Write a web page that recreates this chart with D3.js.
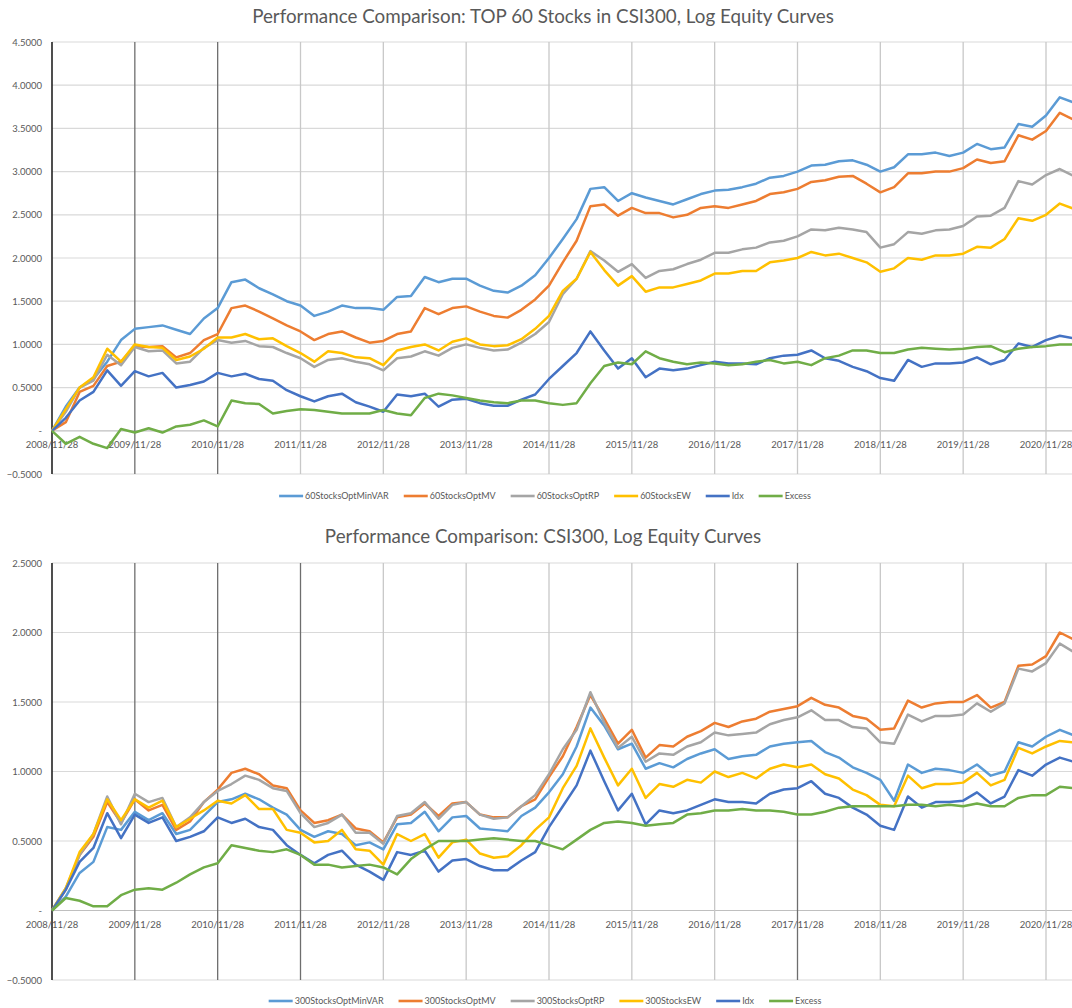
<!DOCTYPE html>
<html>
<head>
<meta charset="utf-8">
<script src="https://cdn.jsdelivr.net/npm/d3@7"></script>
<style>
  body { margin: 0; background: #fff; overflow: hidden; }
  svg { display: block; font-family: Lato, "Open Sans", sans-serif; }
</style>
</head>
<body>
<svg id="chart" width="1072" height="1008"></svg>
<script>
/* month offsets from 2008/11/28, the curves are read every 2 months */
const MONTHS = d3.range(0, 149, 2);

const TICK_LABELS = ["2008/11/28", "2009/11/28", "2010/11/28", "2011/11/28", "2012/11/28",
  "2013/11/28", "2014/11/28", "2015/11/28", "2016/11/28", "2017/11/28", "2018/11/28",
  "2019/11/28", "2020/11/28"];

const COLORS = ["#5B9BD5", "#ED7D31", "#A5A5A5", "#FFC000", "#4472C4", "#70AD47"];

/* CSI300 index, same curve in both charts */
const IDX = [
  0, 0.15, 0.35, 0.45, 0.7, 0.52, 0.69, 0.63, 0.67, 0.5, 0.53, 0.57,
  0.67, 0.63, 0.66, 0.6, 0.58, 0.47, 0.4, 0.34, 0.4, 0.43, 0.33, 0.28,
  0.22, 0.42, 0.4, 0.43, 0.28, 0.36, 0.37, 0.32, 0.29, 0.29, 0.36, 0.42,
  0.6, 0.75, 0.9, 1.15, 0.93, 0.72, 0.84, 0.62, 0.72, 0.7, 0.72, 0.76,
  0.8, 0.78, 0.78, 0.77, 0.84, 0.87, 0.88, 0.93, 0.84, 0.81, 0.74, 0.69,
  0.61, 0.58, 0.82, 0.74, 0.78, 0.78, 0.79, 0.85, 0.77, 0.82, 1.01, 0.97,
  1.05, 1.1, 1.07
];

/* top chart: 60 stocks */
const TOP60_NAMES = ["60StocksOptMinVAR", "60StocksOptMV", "60StocksOptRP", "60StocksEW", "Idx", "Excess"];

const TOP60_MINVAR = [
  0, 0.28, 0.5, 0.6, 0.8, 1.05, 1.18, 1.2, 1.22, 1.17, 1.12, 1.3,
  1.42, 1.72, 1.75, 1.65, 1.58, 1.5, 1.45, 1.33, 1.38, 1.45, 1.42, 1.42,
  1.4, 1.55, 1.56, 1.78, 1.72, 1.76, 1.76, 1.68, 1.62, 1.6, 1.68, 1.8,
  2.0, 2.22, 2.45, 2.8, 2.82, 2.66, 2.75, 2.7, 2.66, 2.62, 2.68, 2.74,
  2.78, 2.79, 2.82, 2.86, 2.93, 2.95, 3.0, 3.07, 3.08, 3.12, 3.13, 3.08,
  3.0, 3.05, 3.2, 3.2, 3.22, 3.18, 3.22, 3.32, 3.26, 3.28, 3.55, 3.52,
  3.65, 3.86, 3.8
];
const TOP60_MV = [
  0, 0.1, 0.45, 0.52, 0.75, 0.8, 0.98, 0.97, 0.98, 0.85, 0.9, 1.05,
  1.12, 1.42, 1.45, 1.38, 1.3, 1.22, 1.15, 1.05, 1.12, 1.15, 1.08, 1.02,
  1.04, 1.12, 1.15, 1.42, 1.35, 1.42, 1.44, 1.38, 1.33, 1.31, 1.4, 1.52,
  1.68, 1.95, 2.2, 2.6, 2.62, 2.49, 2.58, 2.52, 2.52, 2.47, 2.5, 2.58,
  2.6, 2.58, 2.62, 2.66, 2.74, 2.76, 2.8, 2.88, 2.9, 2.94, 2.95, 2.86,
  2.76, 2.82, 2.98, 2.98, 3.0, 3.0, 3.04, 3.14, 3.1, 3.12, 3.42, 3.37,
  3.47, 3.68, 3.6
];
const TOP60_RP = [
  0, 0.22, 0.5, 0.58, 0.88, 0.76, 0.97, 0.92, 0.93, 0.78, 0.8, 0.96,
  1.05, 1.02, 1.04, 0.98, 0.97, 0.9, 0.84, 0.74, 0.82, 0.84, 0.8, 0.77,
  0.7, 0.84, 0.86, 0.92, 0.87, 0.96, 1.0, 0.96, 0.93, 0.94, 1.02, 1.12,
  1.26, 1.58, 1.76, 2.08, 1.97, 1.84, 1.93, 1.77, 1.85, 1.87, 1.93, 1.98,
  2.06, 2.06, 2.1, 2.12, 2.18, 2.2, 2.25, 2.33, 2.32, 2.35, 2.33, 2.3,
  2.12, 2.16, 2.3, 2.28, 2.32, 2.33, 2.37, 2.48, 2.49, 2.58, 2.89, 2.85,
  2.96, 3.03, 2.95
];
const TOP60_EW = [
  0, 0.25, 0.5, 0.62, 0.95, 0.8, 1.0, 0.97, 0.96, 0.82, 0.86, 0.95,
  1.08, 1.08, 1.12, 1.06, 1.07, 0.98, 0.9, 0.8, 0.92, 0.9, 0.85, 0.84,
  0.76, 0.93, 0.97, 1.0, 0.93, 1.03, 1.07, 1.0, 0.98, 0.99, 1.06, 1.18,
  1.33, 1.62, 1.76, 2.07, 1.86, 1.68, 1.79, 1.61, 1.66, 1.66, 1.7, 1.74,
  1.82, 1.82, 1.85, 1.85, 1.95, 1.97, 2.0, 2.07, 2.03, 2.05, 2.0, 1.95,
  1.84, 1.88, 2.0, 1.98, 2.03, 2.03, 2.05, 2.13, 2.12, 2.22, 2.46, 2.43,
  2.5, 2.63, 2.57
];
const TOP60_EXCESS = [
  0, -0.15, -0.07, -0.15, -0.2, 0.02, -0.02, 0.03, -0.02, 0.05, 0.07, 0.12,
  0.05, 0.35, 0.32, 0.31, 0.2, 0.23, 0.25, 0.24, 0.22, 0.2, 0.2, 0.2,
  0.24, 0.2, 0.18, 0.38, 0.43, 0.41, 0.38, 0.35, 0.33, 0.32, 0.35, 0.35,
  0.32, 0.3, 0.32, 0.55, 0.75, 0.79, 0.77, 0.92, 0.84, 0.8, 0.77, 0.79,
  0.78, 0.76, 0.77, 0.8, 0.82, 0.78, 0.8, 0.76, 0.84, 0.87, 0.93, 0.93,
  0.9, 0.9, 0.94, 0.96, 0.95, 0.94, 0.95, 0.97, 0.98, 0.91, 0.95, 0.97,
  0.98, 1.0, 1.0
];

/* bottom chart: all 300 stocks */
const ALL300_NAMES = ["300StocksOptMinVAR", "300StocksOptMV", "300StocksOptRP", "300StocksEW", "Idx", "Excess"];

const ALL300_MINVAR = [
  0, 0.1, 0.27, 0.35, 0.6, 0.58, 0.71, 0.65, 0.7, 0.55, 0.58, 0.68,
  0.78, 0.8, 0.84, 0.8, 0.74, 0.69, 0.58, 0.53, 0.57, 0.55, 0.47, 0.49,
  0.44, 0.62, 0.63, 0.71, 0.57, 0.67, 0.68, 0.59, 0.58, 0.57, 0.68, 0.74,
  0.85, 0.98, 1.18, 1.46, 1.33, 1.16, 1.2, 1.02, 1.06, 1.03, 1.09, 1.13,
  1.16, 1.09, 1.11, 1.12, 1.18, 1.2, 1.21, 1.22, 1.14, 1.1, 1.03, 0.99,
  0.94, 0.79, 1.05, 0.99, 1.02, 1.01, 0.99, 1.05, 0.97, 1.0, 1.21, 1.18,
  1.25, 1.3, 1.26
];
const ALL300_MV = [
  0, 0.15, 0.4, 0.53, 0.78, 0.63, 0.8, 0.72, 0.76, 0.58, 0.64, 0.78,
  0.87, 0.99, 1.02, 0.98, 0.9, 0.88, 0.72, 0.63, 0.65, 0.69, 0.59, 0.57,
  0.49, 0.67, 0.69, 0.77, 0.68, 0.77, 0.78, 0.69, 0.67, 0.67, 0.75, 0.8,
  0.96, 1.11, 1.32, 1.55, 1.38, 1.2, 1.3, 1.1, 1.19, 1.18, 1.25, 1.29,
  1.35, 1.32, 1.36, 1.38, 1.43, 1.45, 1.47, 1.53, 1.48, 1.46, 1.4, 1.38,
  1.3, 1.31, 1.51, 1.46, 1.49, 1.5, 1.5, 1.55, 1.46, 1.5, 1.76, 1.77,
  1.83, 2.0, 1.95
];
const ALL300_RP = [
  0, 0.16, 0.4, 0.55, 0.82, 0.62, 0.84, 0.78, 0.81, 0.6, 0.67, 0.78,
  0.86, 0.91, 0.97, 0.94, 0.88, 0.86, 0.7, 0.6, 0.63, 0.69, 0.56, 0.56,
  0.48, 0.68, 0.7, 0.78, 0.66, 0.76, 0.78, 0.69, 0.66, 0.67, 0.75, 0.83,
  0.98, 1.16, 1.3, 1.57, 1.35, 1.17, 1.25, 1.07, 1.13, 1.12, 1.18, 1.21,
  1.28, 1.26, 1.27, 1.28, 1.34, 1.37, 1.39, 1.44, 1.37, 1.37, 1.32, 1.31,
  1.21, 1.2, 1.41, 1.36, 1.4, 1.4, 1.41, 1.49, 1.43, 1.49, 1.74, 1.72,
  1.78, 1.92, 1.86
];
const ALL300_EW = [
  0, 0.16, 0.42, 0.55, 0.8, 0.65, 0.8, 0.74, 0.79, 0.6, 0.66, 0.72,
  0.79, 0.77, 0.83, 0.73, 0.73, 0.58, 0.56, 0.49, 0.5, 0.58, 0.44, 0.43,
  0.33, 0.55, 0.5, 0.55, 0.38, 0.49, 0.51, 0.41, 0.38, 0.39, 0.47, 0.58,
  0.67, 0.88, 1.04, 1.31, 1.1, 0.9, 1.02, 0.81, 0.91, 0.89, 0.94, 0.92,
  1.0, 0.96, 0.99, 0.95, 1.02, 1.05, 1.03, 1.05, 0.98, 0.95, 0.87, 0.83,
  0.76, 0.75, 0.97, 0.88, 0.91, 0.91, 0.92, 0.99, 0.9, 0.94, 1.17, 1.13,
  1.18, 1.22, 1.21
];
const ALL300_EXCESS = [
  0, 0.09, 0.07, 0.03, 0.03, 0.11, 0.15, 0.16, 0.15, 0.2, 0.26, 0.31,
  0.34, 0.47, 0.45, 0.43, 0.42, 0.44, 0.4, 0.33, 0.33, 0.31, 0.32, 0.33,
  0.31, 0.26, 0.37, 0.44, 0.5, 0.5, 0.5, 0.51, 0.52, 0.51, 0.5, 0.5,
  0.47, 0.44, 0.51, 0.58, 0.63, 0.64, 0.63, 0.61, 0.62, 0.63, 0.69, 0.7,
  0.72, 0.72, 0.73, 0.72, 0.72, 0.71, 0.69, 0.69, 0.71, 0.74, 0.75, 0.75,
  0.75, 0.75, 0.76, 0.76, 0.75, 0.76, 0.75, 0.77, 0.75, 0.75, 0.81, 0.83,
  0.83, 0.89, 0.88
];

const svg = d3.select("#chart");
const TEXT_COLOR = "#595959";

// same horizontal scale for both charts, 2020/11/28 sits at x=1046
const x = d3.scaleLinear().domain([0, 144]).range([52, 1046]);

function drawChart(cfg) {
  const y = d3.scaleLinear().domain([cfg.yMin, cfg.yMax]).range([cfg.bottom, cfg.top]);
  const g = svg.append("g");
  const right = 1072;

  g.append("text")
    .attr("x", 543)
    .attr("y", cfg.titleY)
    .attr("text-anchor", "middle")
    .attr("fill", TEXT_COLOR)
    .style("font-size", "18.8px")
    .text(cfg.title);

  // horizontal gridlines and value labels
  const yTicks = d3.range(cfg.yMin, cfg.yMax + 0.001, 0.5);
  g.selectAll(".hgrid")
    .data(yTicks)
    .enter()
    .append("line")
    .attr("x1", x(0))
    .attr("x2", right)
    .attr("y1", d => y(d))
    .attr("y2", d => y(d))
    .attr("stroke", d => (d === 0 ? "#bfbfbf" : "#d9d9d9"))
    .attr("stroke-width", 1.2);

  g.selectAll(".ylabel")
    .data(yTicks)
    .enter()
    .append("text")
    .attr("x", 42)
    .attr("y", d => y(d) + 3.5)
    .attr("text-anchor", "end")
    .attr("fill", TEXT_COLOR)
    .style("font-size", "9.5px")
    .text(d => (d === 0 ? "-" : d3.format(".4f")(d)));

  // yearly vertical gridlines
  const tickMonths = TICK_LABELS.map((_, i) => i * 12);
  g.selectAll(".vgrid")
    .data(tickMonths)
    .enter()
    .append("line")
    .attr("x1", d => x(d))
    .attr("x2", d => x(d))
    .attr("y1", cfg.top)
    .attr("y2", cfg.bottom)
    .attr("stroke", (d, i) => (i === 0 ? "#222" : cfg.darkGrid.includes(i) ? "#6e6e6e" : "#c8c8c8"))
    .attr("stroke-width", (d, i) => (i === 0 ? 1.6 : 1.3));

  g.selectAll(".xlabel")
    .data(TICK_LABELS)
    .enter()
    .append("text")
    .attr("x", (d, i) => x(tickMonths[i]))
    .attr("y", y(0) + 17)
    .attr("text-anchor", "middle")
    .attr("fill", TEXT_COLOR)
    .style("font-size", "9.5px")
    .text(d => d);

  const line = d3.line()
    .x((d, i) => x(MONTHS[i]))
    .y(d => y(d));

  g.selectAll(".series")
    .data(cfg.series)
    .enter()
    .append("path")
    .attr("d", d => line(d.values))
    .attr("fill", "none")
    .attr("stroke", d => d.color)
    .attr("stroke-width", 2.5)
    .attr("stroke-linejoin", "round");

  // legend, centred under the plot
  const legend = g.append("g");
  const gap = 15;
  let cursor = 0;
  cfg.series.forEach(s => {
    const item = legend.append("g").attr("transform", `translate(${cursor},0)`);
    item.append("line")
      .attr("x1", 0).attr("x2", 24)
      .attr("y1", 0).attr("y2", 0)
      .attr("stroke", s.color)
      .attr("stroke-width", 2.6);
    const label = item.append("text")
      .attr("x", 26)
      .attr("y", 3.2)
      .attr("fill", TEXT_COLOR)
      .style("font-size", "9px")
      .text(s.name);
    cursor += 26 + label.node().getComputedTextLength() + gap;
  });
  cursor -= gap;
  legend.attr("transform", `translate(${545 - cursor / 2},${cfg.legendY})`);
}

drawChart({
  title: "Performance Comparison: TOP 60 Stocks in CSI300, Log Equity Curves",
  titleY: 23,
  top: 42,
  bottom: 474,
  yMin: -0.5,
  yMax: 4.5,
  legendY: 496,
  darkGrid: [1, 2],
  series: [TOP60_MINVAR, TOP60_MV, TOP60_RP, TOP60_EW, IDX, TOP60_EXCESS]
    .map((values, i) => ({ name: TOP60_NAMES[i], color: COLORS[i], values }))
});

drawChart({
  title: "Performance Comparison: CSI300, Log Equity Curves",
  titleY: 543,
  top: 563,
  bottom: 980,
  yMin: -0.5,
  yMax: 2.5,
  legendY: 1001,
  darkGrid: [1, 2, 3, 9],
  series: [ALL300_MINVAR, ALL300_MV, ALL300_RP, ALL300_EW, IDX, ALL300_EXCESS]
    .map((values, i) => ({ name: ALL300_NAMES[i], color: COLORS[i], values }))
});
</script>
</body>
</html>
